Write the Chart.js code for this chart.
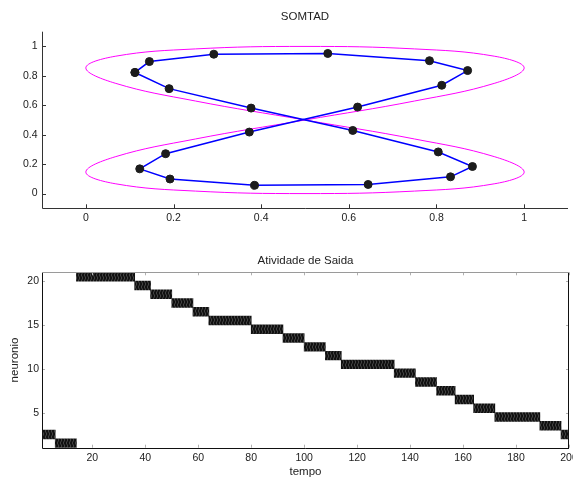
<!DOCTYPE html>
<html><head><meta charset="utf-8">
<script src="https://cdn.jsdelivr.net/npm/chart.js@4.4.1/dist/chart.umd.min.js"></script>
<style>
html,body{margin:0;padding:0;background:#fff;}
#wrap{position:relative;width:573px;height:478px;overflow:hidden;}
canvas{position:absolute;left:0;}
#c1{top:0;} #c2{top:239px;}
</style></head><body>
<div id="wrap"><canvas id="c1" width="573" height="239"></canvas><canvas id="c2" width="573" height="239"></canvas></div>
<script>
// ---------- Top panel: SOMTAD ----------
// input trajectory (magenta figure-eight)
const trajX = [0.5,0.75,0.933,1.0,0.933,0.75,0.5,0.25,0.067,0.0,0.067,0.25,0.5,0.75,0.933,1.0,0.933,0.75,0.5,0.25,0.067,0.0,0.067,0.25,0.5];
const trajY = [0.5,0.629,0.75,0.854,0.933,0.983,1.0,0.983,0.933,0.854,0.75,0.629,0.5,0.371,0.25,0.146,0.067,0.017,0.0,0.017,0.067,0.146,0.25,0.371,0.5];
// neuron weights (closed ring, 20 neurons + closing point)
const neuronX = [0.112,0.145,0.292,0.552,0.784,0.871,0.812,0.620,0.373,0.182,0.123,0.192,0.385,0.644,0.832,0.882,0.804,0.609,0.377,0.190,0.112];
const neuronY = [0.823,0.897,0.947,0.952,0.903,0.836,0.736,0.588,0.418,0.271,0.168,0.099,0.056,0.062,0.114,0.184,0.283,0.429,0.581,0.713,0.823];
const topXTicks = [0,0.2,0.4,0.6,0.8,1];
const topYTicks = [0,0.2,0.4,0.6,0.8,1];

// ---------- Bottom panel: Atividade de Saida ----------
const spanStart  = [1,6,14,36,42,50,58,64,80,92,100,108,114,134,142,150,157,164,172,189,197];
const spanEnd    = [6,14,36,42,50,58,64,80,92,100,108,114,134,142,150,157,164,172,189,197,200];
const spanNeuron = [2,1,20,19,18,17,16,15,14,13,12,11,10,9,8,7,6,5,4,3,2];
const botXTicks = [20,40,60,80,100,120,140,160,180,200];
const botYTicks = [5,10,15,20];

Chart.defaults.font.family = "'Liberation Sans', Arial, sans-serif";
Chart.defaults.color = '#222';

const frameTicks = {
  id: 'frameTicks',
  afterDatasetsDraw(chart, args, o) {
    const {ctx, chartArea: a, scales} = chart;
    ctx.save();
    ctx.lineWidth = 1;
    ctx.strokeStyle = o.tickColor;
    ctx.beginPath();
    scales.x.ticks.forEach(t => {
      const px = Math.round(scales.x.getPixelForValue(t.value)) + 0.5;
      ctx.moveTo(px, a.bottom); ctx.lineTo(px, a.bottom - o.len);
      if (o.box) { ctx.moveTo(px, a.top); ctx.lineTo(px, a.top + o.len); }
    });
    scales.y.ticks.forEach(t => {
      const py = Math.round(scales.y.getPixelForValue(t.value)) + 0.5;
      ctx.moveTo(a.left, py); ctx.lineTo(a.left + o.len, py);
      if (o.box) { ctx.moveTo(a.right, py); ctx.lineTo(a.right - o.len, py); }
    });
    ctx.stroke();
    ctx.strokeStyle = o.axisColor;
    ctx.lineWidth = o.axisWidth;
    ctx.beginPath();
    const L = Math.round(a.left) + 0.5, B = Math.round(a.bottom) + 0.5;
    ctx.moveTo(L, a.top); ctx.lineTo(L, B); ctx.lineTo(a.right, B);
    if (o.box) { const R = Math.round(a.right) - 0.5; ctx.moveTo(R, B); ctx.lineTo(R, a.top); }
    ctx.stroke();
    if (o.box) {
      ctx.strokeStyle = o.topColor;
      ctx.beginPath();
      const T = Math.round(a.top) + 0.5;
      ctx.moveTo(a.left, T); ctx.lineTo(a.right, T);
      ctx.stroke();
    }
    ctx.restore();
  }
};

function fixY(w){ return s => { s.width = w; s.paddingTop = 0; s.paddingBottom = 0; }; }
function fixX(h){ return s => { s.height = h; s.paddingLeft = 0; s.paddingRight = 0; }; }
function setTicks(arr){ return s => { s.ticks = arr.map(v => ({value: v})); }; }
const noGrid = {display: false, drawTicks: false};

// ---- top chart ----
new Chart(document.getElementById('c1'), {
  type: 'scatter',
  data: {
    datasets: [
      {
        data: neuronX.map((x, i) => ({x, y: neuronY[i]})),
        showLine: true, borderColor: '#0000ff', borderWidth: 1.5,
        pointRadius: 4, pointBackgroundColor: '#1c1c1c', pointBorderColor: '#1c1c1c', pointBorderWidth: 1,
        order: 0
      },
      {
        data: trajX.map((x, i) => ({x, y: trajY[i]})),
        showLine: true, borderColor: '#ff00ff', borderWidth: 1, pointRadius: 0, tension: 0.4,
        order: 1
      }
    ]
  },
  options: {
    responsive: false, animation: false, devicePixelRatio: 1,
    layout: {padding: {left: 0, right: 4, top: 0, bottom: 0}},
    plugins: {
      legend: {display: false}, tooltip: {enabled: false},
      title: {display: true, text: 'SOMTAD', fullSize: false, color: '#222',
        font: {size: 11.5, weight: 'normal'}, padding: {top: 9.5, bottom: 8.4}},
      frameTicks: {tickColor: '#333', len: 4, box: false, axisColor: '#333', axisWidth: 1}
    },
    scales: {
      x: {type: 'linear', min: -0.1, max: 1.1, grid: noGrid, border: {display: false},
        afterBuildTicks: setTicks(topXTicks), afterFit: fixX(30.7),
        ticks: {padding: 3.5, font: {size: 10.5}, color: '#222', maxRotation: 0, autoSkip: false, callback: v => String(v)}},
      y: {type: 'linear', min: -0.1, max: 1.1, grid: noGrid, border: {display: false},
        afterBuildTicks: setTicks(topYTicks), afterFit: fixY(42),
        ticks: {padding: 4.5, font: {size: 10.5}, color: '#222', autoSkip: false, callback: v => String(v)}}
    }
  },
  plugins: [frameTicks]
});

// ---- bottom chart ----
const c2 = document.getElementById('c2');
function makePattern(ctx){
  const c = document.createElement('canvas'); c.width = 3; c.height = 6;
  const g = c.getContext('2d');
  g.fillStyle = '#101010'; g.fillRect(0, 0, 3, 6);
  g.strokeStyle = '#5c5c5c'; g.lineWidth = 0.7;
  g.beginPath(); g.moveTo(0.3, 0); g.lineTo(1.8, 3); g.lineTo(0.3, 6); g.stroke();
  return ctx.createPattern(c, 'repeat');
}
const pat = makePattern(c2.getContext('2d'));

new Chart(c2, {
  type: 'bar',
  data: {
    datasets: [{
      data: spanStart.map((s, i) => ({x: [s, spanEnd[i]], y: spanNeuron[i] + 0.5})),
      backgroundColor: pat, borderWidth: 0, barPercentage: 1, categoryPercentage: 1, grouped: false
    }]
  },
  options: {
    indexAxis: 'y', responsive: false, animation: false, devicePixelRatio: 1,
    layout: {padding: {left: 0, right: 4, top: 0, bottom: 0}},
    plugins: {
      legend: {display: false}, tooltip: {enabled: false},
      title: {display: true, text: 'Atividade de Saida', fullSize: false, color: '#222',
        font: {size: 11.5, weight: 'normal'}, padding: {top: 14.5, bottom: 5}},
      frameTicks: {tickColor: '#b0b0b0', len: 3, box: true, axisColor: '#111', axisWidth: 1, topColor: '#9a9a9a'}
    },
    scales: {
      x: {type: 'linear', min: 1, max: 200, offset: false, grid: noGrid, border: {display: false},
        afterBuildTicks: setTicks(botXTicks), afterFit: fixX(30.3),
        title: {display: true, text: 'tempo', color: '#222', font: {size: 11.5, lineHeight: 1}, padding: {top: 0, bottom: 0}},
        ticks: {padding: 4.6, font: {size: 10.5}, color: '#222', maxRotation: 0, autoSkip: false, callback: v => String(v)}},
      y: {type: 'linear', min: 1, max: 21, offset: false, grid: noGrid, border: {display: false},
        afterBuildTicks: setTicks(botYTicks), afterFit: fixY(42),
        title: {display: true, text: 'neuronio', color: '#222', font: {size: 11.5, lineHeight: 1}, padding: {top: 9.5, bottom: 0}},
        ticks: {padding: 3, font: {size: 10.5}, color: '#222', autoSkip: false, callback: v => String(v)}}
    }
  },
  plugins: [frameTicks]
});
</script>
</body></html>
